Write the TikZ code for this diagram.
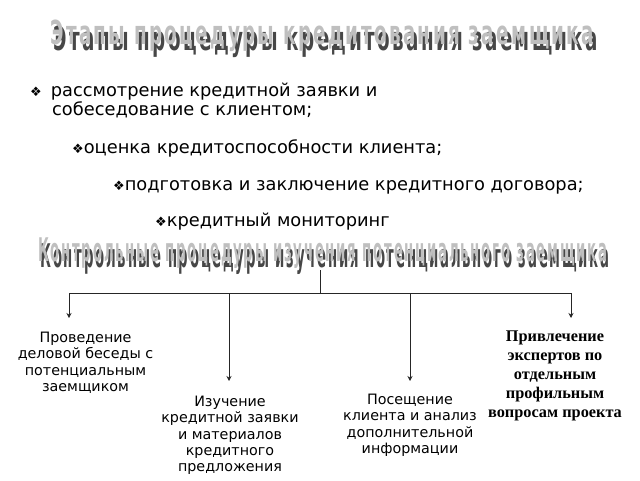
\documentclass[tikz,border=0pt]{standalone}
\usepackage{fontspec}
\setmainfont{DejaVu Sans}
\newfontfamily\wafont[LetterSpace=12]{DejaVu Sans Condensed Bold}
\newfontfamily\serifbold{Liberation Serif}
\usetikzlibrary{arrows.meta}
\newcommand{\wart}[1]{\makebox[0pt][l]{\hspace{1.6pt}\raisebox{-1.6pt}{\color{black!72}#1}}{\color{black!25}#1}}
\tikzset{
  wordart/.style={inner sep=0pt, anchor=north west},
  bul/.style={anchor=base west, inner sep=0pt, font=\fontsize{17.8}{20}\selectfont},
  leaf/.style={align=center, inner sep=0pt, font=\fontsize{14.3}{16.3}\selectfont},
  leafb/.style={align=center, inner sep=0pt, font=\serifbold\bfseries\fontsize{16.3}{19}\selectfont},
  arr/.style={draw=black!85, line width=1pt, -{Stealth[length=5pt,width=5pt]}},
  ln/.style={draw=black!85, line width=1pt}
}
\newcommand{\bl}{{\fontsize{13}{14}\selectfont ❖}}
\begin{document}
\begin{tikzpicture}[x=1pt,y=-1pt]
\useasboundingbox (0,0) rectangle (640,480);
% titles
\node[wordart] (t1) at (50,20) {\resizebox*{544pt}{37pt}{\wafont\wart{Этапы процедуры кредитования заемщика}}};
\node[wordart] (t2) at (38,238) {\resizebox*{569pt}{36pt}{\wafont\wart{Контрольные процедуры изучения потенциального заемщика}}};
% bullets
\node[bul] (b1a) at (30,96) {\bl\hspace{9pt}рассмотрение кредитной заявки и};
\node[bul] (b1b) at (52,115) {собеседование с клиентом;};
\node[bul] (b2) at (72,153) {\bl оценка кредитоспособности клиента;};
\node[bul] (b3) at (113,190) {\bl подготовка и заключение кредитного договора;};
\node[bul] (b4) at (155,226) {\bl кредитный мониторинг};
% tree
\coordinate (stem) at (320,270);
\coordinate (j) at (320,293);
\coordinate (a1) at (69,318);
\coordinate (a2) at (229,381);
\coordinate (a3) at (410,381);
\coordinate (a4) at (571,318);
\draw[ln] (stem) -- (j);
\draw[arr] (j) -| (a1);
\draw[arr] (j) -| (a2);
\draw[arr] (j) -| (a3);
\draw[arr] (j) -| (a4);
\node[leaf, anchor=north] (n1) at (85.5,332) {Проведение\\деловой беседы с\\потенциальным\\заемщиком};
\node[leaf, anchor=north] (n2) at (230,396) {Изучение\\кредитной заявки\\и материалов\\кредитного\\предложения};
\node[leaf, anchor=north] (n3) at (410,394) {Посещение\\клиента и анализ\\дополнительной\\информации};
\node[leafb, anchor=north] (n4) at (555,331) {Привлечение\\экспертов по\\отдельным\\профильным\\вопросам проекта};
\end{tikzpicture}
\end{document}
